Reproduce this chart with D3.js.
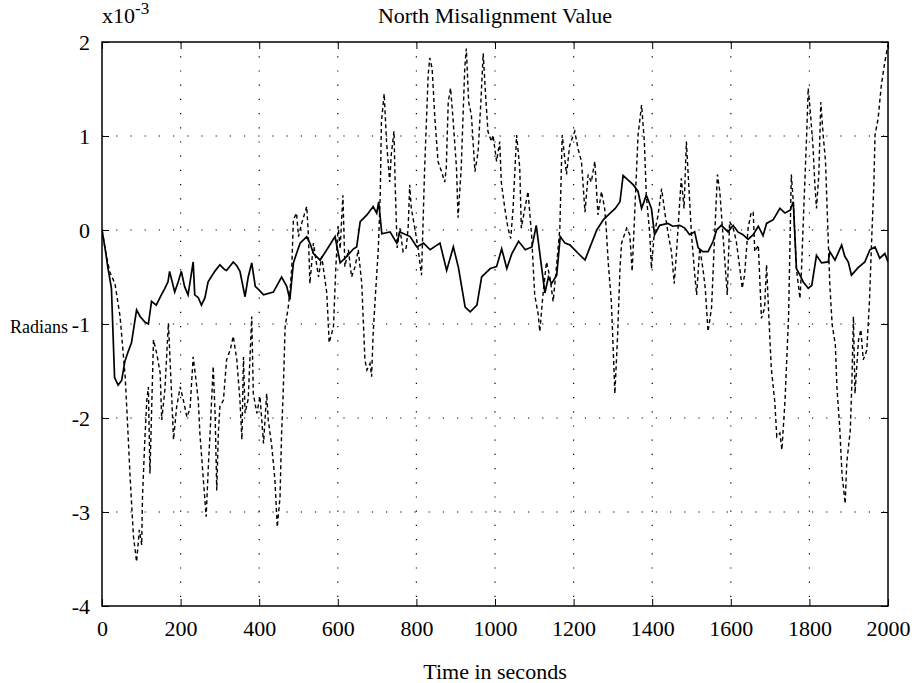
<!DOCTYPE html>
<html>
<head>
<meta charset="utf-8">
<script src="https://cdn.jsdelivr.net/npm/d3@7"></script>
<style>
  body { margin: 0; background: #fff; }
  svg text { font-family: "Liberation Serif", "Times New Roman", serif; fill: #000; }
  .grid line { stroke: #000; stroke-width: 1.2; stroke-dasharray: 1.2,13; }
  .axis path, .axis line { stroke: #000; }
</style>
</head>
<body>
<div id="chart"></div>
<script>
// values in units of 1e-3 radians, time in seconds
var solidTime = [0, 8, 15, 24, 32, 41, 50, 58, 66, 75, 88, 97, 109, 118, 126, 138, 151, 160, 168, 172,
    185, 194, 202, 210, 219, 232, 236, 245, 253, 262, 270, 287, 300, 312, 317, 334, 343, 351, 364, 372,
    381, 390, 400, 411, 436, 457, 470, 478, 487, 495, 504, 521, 530, 538, 555, 572, 593, 606, 623, 640,
    648, 657, 674, 690, 699, 704, 712, 733, 750, 758, 784, 801, 818, 835, 860, 877, 894, 907, 924, 937,
    954, 966, 988, 1004, 1017, 1030, 1043, 1060, 1077, 1094, 1105, 1115, 1127, 1136, 1144, 1157, 1166, 1178, 1191, 1212,
    1229, 1242, 1259, 1276, 1293, 1306, 1318, 1326, 1352, 1364, 1373, 1385, 1398, 1406, 1419, 1440, 1452, 1470, 1483, 1495,
    1508, 1517, 1529, 1542, 1555, 1564, 1576, 1593, 1606, 1618, 1631, 1644, 1657, 1670, 1682, 1691, 1708, 1725, 1738, 1751,
    1759, 1767, 1776, 1784, 1797, 1806, 1818, 1831, 1848, 1852, 1865, 1882, 1890, 1899, 1907, 1924, 1941, 1954, 1967, 1979,
    1992, 2000];
var solidValue = [0, -0.2, -0.4, -0.62, -1.57, -1.65, -1.6, -1.4, -1.3, -1.2, -0.85, -0.92, -0.98, -1.0, -0.76, -0.8, -0.69, -0.62, -0.55, -0.44,
    -0.66, -0.55, -0.44, -0.6, -0.69, -0.34, -0.69, -0.72, -0.8, -0.72, -0.55, -0.44, -0.37, -0.42, -0.43, -0.34, -0.38, -0.44, -0.71, -0.5,
    -0.35, -0.6, -0.64, -0.69, -0.66, -0.5, -0.6, -0.74, -0.35, -0.25, -0.14, -0.07, -0.15, -0.25, -0.32, -0.21, -0.07, -0.35, -0.28, -0.2,
    -0.18, 0.09, 0.16, 0.25, 0.18, 0.3, -0.04, -0.02, -0.14, -0.02, -0.07, -0.18, -0.14, -0.21, -0.14, -0.43, -0.18, -0.4, -0.82, -0.87,
    -0.8, -0.5, -0.41, -0.39, -0.2, -0.41, -0.25, -0.12, -0.21, -0.18, 0.05, -0.28, -0.67, -0.5, -0.57, -0.48, -0.07, -0.14, -0.16, -0.25,
    -0.32, -0.18, 0, 0.11, 0.18, 0.23, 0.3, 0.58, 0.48, 0.41, 0.23, 0.37, 0.23, -0.05, 0.05, 0.07, 0.04, 0.05, 0.02, -0.05,
    -0.02, -0.19, -0.23, -0.23, -0.12, 0, 0.05, -0.02, 0.05, -0.02, -0.05, -0.1, -0.05, 0.04, -0.06, 0.07, 0.11, 0.23, 0.18, 0.21,
    0.3, -0.41, -0.48, -0.55, -0.62, -0.59, -0.27, -0.35, -0.34, -0.23, -0.32, -0.16, -0.28, -0.34, -0.48, -0.4, -0.34, -0.21, -0.18, -0.3,
    -0.25, -0.34];

var dashedTime = [0, 10, 20, 33, 46, 59, 67, 71, 80, 88, 95, 101, 103, 109, 114, 118, 122, 131, 139, 148,
    152, 160, 169, 177, 182, 190, 199, 207, 216, 224, 232, 237, 245, 249, 258, 265, 271, 275, 283, 288,
    292, 296, 300, 309, 317, 326, 334, 343, 351, 356, 360, 364, 372, 381, 385, 394, 402, 411, 419, 423,
    432, 440, 446, 453, 457, 461, 466, 474, 478, 483, 487, 495, 500, 508, 521, 525, 529, 538, 551, 559,
    572, 578, 589, 595, 601, 606, 613, 618, 627, 635, 644, 652, 661, 669, 674, 682, 686, 690, 695, 703,
    708, 711, 718, 724, 732, 736, 743, 746, 751, 758, 766, 774, 779, 783, 787, 796, 804, 813, 821, 830,
    834, 840, 847, 855, 864, 872, 876, 881, 887, 893, 902, 906, 914, 923, 927, 933, 940, 949, 957, 964,
    970, 976, 982, 991, 995, 1004, 1012, 1016, 1025, 1033, 1040, 1046, 1055, 1063, 1067, 1076, 1084, 1093, 1101, 1110,
    1114, 1122, 1131, 1140, 1148, 1156, 1165, 1171, 1182, 1190, 1203, 1211, 1220, 1229, 1237, 1245, 1254, 1262, 1271, 1279,
    1283, 1288, 1296, 1301, 1305, 1312, 1318, 1322, 1335, 1343, 1349, 1356, 1364, 1373, 1380, 1385, 1394, 1398, 1405, 1415,
    1424, 1432, 1441, 1449, 1456, 1462, 1470, 1474, 1481, 1487, 1493, 1500, 1507, 1513, 1521, 1529, 1535, 1542, 1551, 1559,
    1566, 1572, 1580, 1585, 1591, 1597, 1606, 1614, 1623, 1629, 1635, 1644, 1652, 1657, 1661, 1670, 1678, 1686, 1691, 1697,
    1703, 1712, 1717, 1725, 1730, 1738, 1747, 1754, 1759, 1767, 1776, 1780, 1787, 1793, 1797, 1803, 1809, 1814, 1818, 1824,
    1829, 1835, 1841, 1846, 1852, 1858, 1866, 1870, 1877, 1883, 1891, 1895, 1904, 1908, 1912, 1916, 1925, 1931, 1937, 1946,
    1953, 1959, 1964, 1967, 1975, 1983, 1992, 2000];
var dashedValue = [0, -0.25, -0.45, -0.57, -0.92, -1.56, -2.23, -2.59, -3.26, -3.53, -3.19, -3.35, -2.84, -2.23, -1.81, -1.67, -2.59, -1.17, -1.31, -1.52,
    -2.02, -1.7, -0.99, -1.74, -2.23, -1.88, -1.67, -1.81, -1.99, -1.9, -1.35, -1.52, -1.81, -2.16, -2.66, -3.05, -2.48, -2.16, -1.45, -1.99,
    -2.77, -2.16, -1.88, -1.81, -1.38, -1.28, -1.13, -1.38, -1.81, -2.23, -1.35, -1.95, -1.8, -0.92, -1.74, -1.95, -1.77, -2.27, -1.74, -2.02,
    -2.3, -2.66, -3.16, -2.84, -2.16, -1.74, -1.03, -0.82, -0.67, -0.39, 0.11, 0.18, -0.07, 0.07, 0.25, -0.04, -0.57, -0.14, -0.5, -0.28,
    -0.67, -1.2, -1.03, -0.39, 0.04, -0.2, 0.37, -0.39, -0.21, -0.5, -0.39, -0.21, -0.57, -1.38, -1.49, -1.42, -1.56, -1.1, -0.74, -0.21,
    0.37, 1.15, 1.45, 0.94, 0.51, 0.8, 1.05, 0.48, -0.19, 0.02, -0.23, -0.19, 0.02, 0.48, 0.23, 0.02, -0.19, -0.48, 0.66, 1.65,
    1.83, 1.72, 1.19, 0.73, 0.62, 0.51, 0.66, 1.36, 1.51, 1.19, 0.66, 0.13, 0.66, 1.72, 1.93, 1.36, 1.22, 0.62, 0.83, 1.36,
    1.88, 1.44, 1.05, 0.94, 1.01, 0.73, 0.94, 0.51, 0.23, 0.02, -0.09, 0.23, 1.01, 0.66, 0.02, 0.23, 0.41, -0.05, -0.69, -0.9,
    -1.08, -0.69, -0.34, -0.51, -0.76, -0.41, 0.02, 1.01, 0.59, 0.9, 1.05, 0.87, 0.73, 0.19, 0.59, 0.51, 0.73, 0.16, 0.41, 0.23,
    0.02, -0.34, -0.76, -1.29, -1.74, -1.12, -0.41, -0.14, 0.02, -0.05, -0.44, 0.23, 1.01, 1.33, 0.94, 0.37, -0.05, -0.41, -0.05, 0.16,
    0.44, 0.19, -0.05, -0.23, -0.57, -0.23, 0.3, 0.55, 0.23, 0.94, 0.48, -0.05, -0.41, -0.69, -0.19, -0.41, -0.62, -1.08, -0.83, -0.05,
    0.59, 0.41, -0.05, -0.34, -0.69, 0.09, 0.02, -0.12, -0.41, -0.62, -0.48, 0.02, 0.19, 0.19, -0.23, -0.16, -0.94, -0.83, -0.37, -0.94,
    -1.47, -1.83, -2.2, -2.16, -2.34, -1.81, -0.92, 0.59, 0.3, -0.41, -0.73, -0.41, 0.37, 1.01, 1.51, 1.22, 0.9, 0.48, 0.23, 0.59,
    1.36, 1.01, 0.73, 0.12, -0.59, -1.01, -1.22, -1.67, -2.09, -2.6, -2.91, -2.48, -2.13, -1.63, -0.92, -1.74, -1.17, -1.06, -1.38, -1.28,
    -0.74, -0.04, 0.48, 1.01, 1.19, 1.54, 1.79, 1.97];

var xTicks = [0, 200, 400, 600, 800, 1000, 1200, 1400, 1600, 1800, 2000];
var yTicks = [-4, -3, -2, -1, 0, 1, 2];

var svgWidth = 914;
var svgHeight = 683;
// plot box edges in pixels ("top" is taken by window.top, so prefix them)
var plotLeft = 102, plotRight = 888, plotTop = 42, plotBottom = 606;

var svg = d3.select("#chart").append("svg")
    .attr("width", svgWidth)
    .attr("height", svgHeight);

var xScale = d3.scaleLinear().domain([0, 2000]).range([plotLeft, plotRight]);
var yScale = d3.scaleLinear().domain([-4, 2]).range([plotBottom, plotTop]);

// sparse dotted grid, like the old matlab print
svg.append("g")
    .attr("class", "grid")
    .selectAll("line")
    .data(xTicks.slice(1, -1)).enter().append("line")
    .attr("x1", function(d) { return xScale(d); })
    .attr("x2", function(d) { return xScale(d); })
    .attr("y1", plotTop)
    .attr("y2", plotBottom);

svg.append("g")
    .attr("class", "grid")
    .selectAll("line")
    .data(yTicks.slice(1, -1)).enter().append("line")
    .attr("x1", plotLeft)
    .attr("x2", plotRight)
    .attr("y1", function(d) { return yScale(d); })
    .attr("y2", function(d) { return yScale(d); });

svg.append("clipPath").attr("id", "plotClip")
    .append("rect")
    .attr("x", plotLeft).attr("y", plotTop)
    .attr("width", plotRight - plotLeft).attr("height", plotBottom - plotTop);

var line = d3.line()
    .x(function(d) { return xScale(d[0]); })
    .y(function(d) { return yScale(d[1]); });

svg.append("path")
    .datum(d3.zip(dashedTime, dashedValue))
    .attr("clip-path", "url(#plotClip)")
    .attr("fill", "none")
    .attr("stroke", "#000")
    .attr("stroke-width", 1.4)
    .attr("stroke-dasharray", "4,3")
    .attr("d", line);

svg.append("path")
    .datum(d3.zip(solidTime, solidValue))
    .attr("clip-path", "url(#plotClip)")
    .attr("fill", "none")
    .attr("stroke", "#000")
    .attr("stroke-width", 1.7)
    .attr("d", line);

// axes with inward ticks on all four sides
var tickLen = 7;
var labelFont = function(g) {
    g.selectAll("text").attr("font-size", 22).attr("font-family", "Liberation Serif");
};

svg.append("g")
    .attr("class", "axis")
    .attr("transform", "translate(0," + plotBottom + ")")
    .call(d3.axisBottom(xScale).tickValues(xTicks).tickSizeInner(-tickLen).tickSizeOuter(0)
        .tickPadding(14).tickFormat(d3.format("d")))
    .call(labelFont);

svg.append("g")
    .attr("class", "axis")
    .attr("transform", "translate(0," + plotTop + ")")
    .call(d3.axisTop(xScale).tickValues(xTicks).tickSizeInner(-tickLen).tickSizeOuter(0).tickFormat(""));

svg.append("g")
    .attr("class", "axis")
    .attr("transform", "translate(" + plotLeft + ",0)")
    .call(d3.axisLeft(yScale).tickValues(yTicks).tickSizeInner(-tickLen).tickSizeOuter(0).tickPadding(12)
        .tickFormat(function(d) { return d < 0 ? "-" + Math.abs(d) : d; }))
    .call(labelFont);

svg.append("g")
    .attr("class", "axis")
    .attr("transform", "translate(" + plotRight + ",0)")
    .call(d3.axisRight(yScale).tickValues(yTicks).tickSizeInner(-tickLen).tickSizeOuter(0).tickFormat(""));

svg.selectAll(".axis .domain").remove();

svg.append("rect")
    .attr("x", plotLeft).attr("y", plotTop)
    .attr("width", plotRight - plotLeft).attr("height", plotBottom - plotTop)
    .attr("fill", "none")
    .attr("stroke", "#000")
    .attr("stroke-width", 1.5);

// labels
svg.append("text")
    .attr("x", (plotLeft + plotRight) / 2)
    .attr("y", 23)
    .attr("text-anchor", "middle")
    .attr("font-size", 22)
    .text("North Misalignment Value");

var expo = svg.append("text")
    .attr("x", plotLeft)
    .attr("y", 23)
    .attr("font-size", 22);
expo.append("tspan").text("x10");
expo.append("tspan").attr("dy", -9).attr("font-size", 17).text("-3");

svg.append("text")
    .attr("x", 10)
    .attr("y", 333)
    .attr("font-size", 18)
    .text("Radians");

svg.append("text")
    .attr("x", (plotLeft + plotRight) / 2)
    .attr("y", 679)
    .attr("text-anchor", "middle")
    .attr("font-size", 22)
    .text("Time in seconds");
</script>
</body>
</html>
